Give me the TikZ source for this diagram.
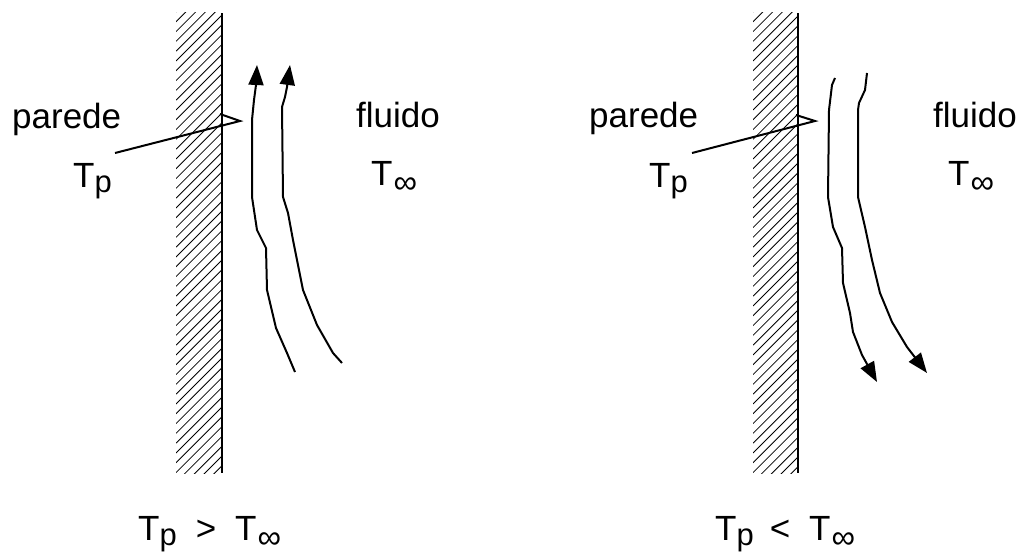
\documentclass[tikz,border=0pt]{standalone}
\usepackage{fontspec}
\setmainfont{Liberation Sans}
\usetikzlibrary{arrows.meta}
\newcommand{\myTp}{T\raisebox{-0.17em}{\fontsize{31}{31}\selectfont p}}
\newcommand{\myTinf}{T\kern1pt\raisebox{-8pt}{\fontsize{33}{33}\selectfont ∞}}
\tikzset{
  lbl/.style={anchor=base west, inner sep=0pt, font=\fontsize{35}{35}\selectfont},
  hatchline/.style={line width=0.8pt},
  wallline/.style={line width=2.4pt},
  leader/.style={line width=2pt, line join=miter},
  flow/.style={line width=2pt, line join=round, -{Triangle[length=20pt,width=15pt]}},
}
\begin{document}
\begin{tikzpicture}[x=1pt,y=-1pt]
\useasboundingbox (0,0) rectangle (1020,554);
% ---------- left panel ----------
\begin{scope}
  \clip (176,12) rectangle (222,473);
  \foreach \k in {0,...,55} \draw[hatchline] (176,12+\k*9.8) -- ++(48,-48);
\end{scope}
\draw[wallline] (222,13) coordinate (wLtop) -- (222,473) coordinate (wLbot);
\node[lbl] (paredeL) at (12,128) {parede};
\node[lbl] (TpL) at (73,187) {\myTp};
\node[lbl] (fluidoL) at (356,127) {fluido};
\node[lbl] (TinfL) at (371,185) {\myTinf};
\coordinate (ldL0) at (115,153);
\coordinate (ldL1) at (240,121);
\coordinate (ldL2) at (220,114);
\draw[leader] (ldL0) -- (ldL1) -- (ldL2);
\coordinate (a1s) at (295,372);
\coordinate (a1e) at (257,65);
\draw[flow] (a1s) -- (287,353) -- (276,328) -- (267,290) -- (266,248) -- (257,230) -- (252,197) -- (252,120) -- (254,100) -- (256,85) -- (a1e);
\coordinate (a2s) at (342,363);
\coordinate (a2e) at (290,65);
\draw[flow] (a2s) -- (333,353) -- (317,325) -- (303,290) -- (293,240) -- (288,213) -- (283,197) -- (282,107) -- (285,97) -- (287,87) -- (a2e);
\node[lbl] (condL) at (138,540) {\myTp\hspace{19pt}>\hspace{19pt}\myTinf};
% ---------- right panel ----------
\begin{scope}
  \clip (753,12) rectangle (798,473);
  \foreach \k in {0,...,55} \draw[hatchline] (753,12+\k*9.8) -- ++(48,-48);
\end{scope}
\draw[wallline] (798,13) coordinate (wRtop) -- (798,473) coordinate (wRbot);
\node[lbl] (paredeR) at (589,127) {parede};
\node[lbl] (TpR) at (649,187) {\myTp};
\node[lbl] (fluidoR) at (933,127) {fluido};
\node[lbl] (TinfR) at (948,185) {\myTinf};
\coordinate (ldR0) at (692,153);
\coordinate (ldR1) at (815,121);
\coordinate (ldR2) at (796,115);
\draw[leader] (ldR0) -- (ldR1) -- (ldR2);
\coordinate (a3s) at (835,78);
\coordinate (a3e) at (877,382);
\draw[flow] (a3s) -- (832,85) -- (829,110) -- (828,197) -- (833,227) -- (842,248) -- (843,283) -- (850,313) -- (853,332) -- (862,355) -- (a3e);
\coordinate (a4s) at (867,73);
\coordinate (a4e) at (927,373);
\draw[flow] (a4s) -- (865,90) -- (859,103) -- (858,110) -- (858,197) -- (865,227) -- (872,260) -- (880,293) -- (892,322) -- (907,347) -- (a4e);
\node[lbl] (condR) at (715,540) {\myTp\hspace{16pt}<\hspace{19pt}\myTinf};
\end{tikzpicture}
\end{document}
